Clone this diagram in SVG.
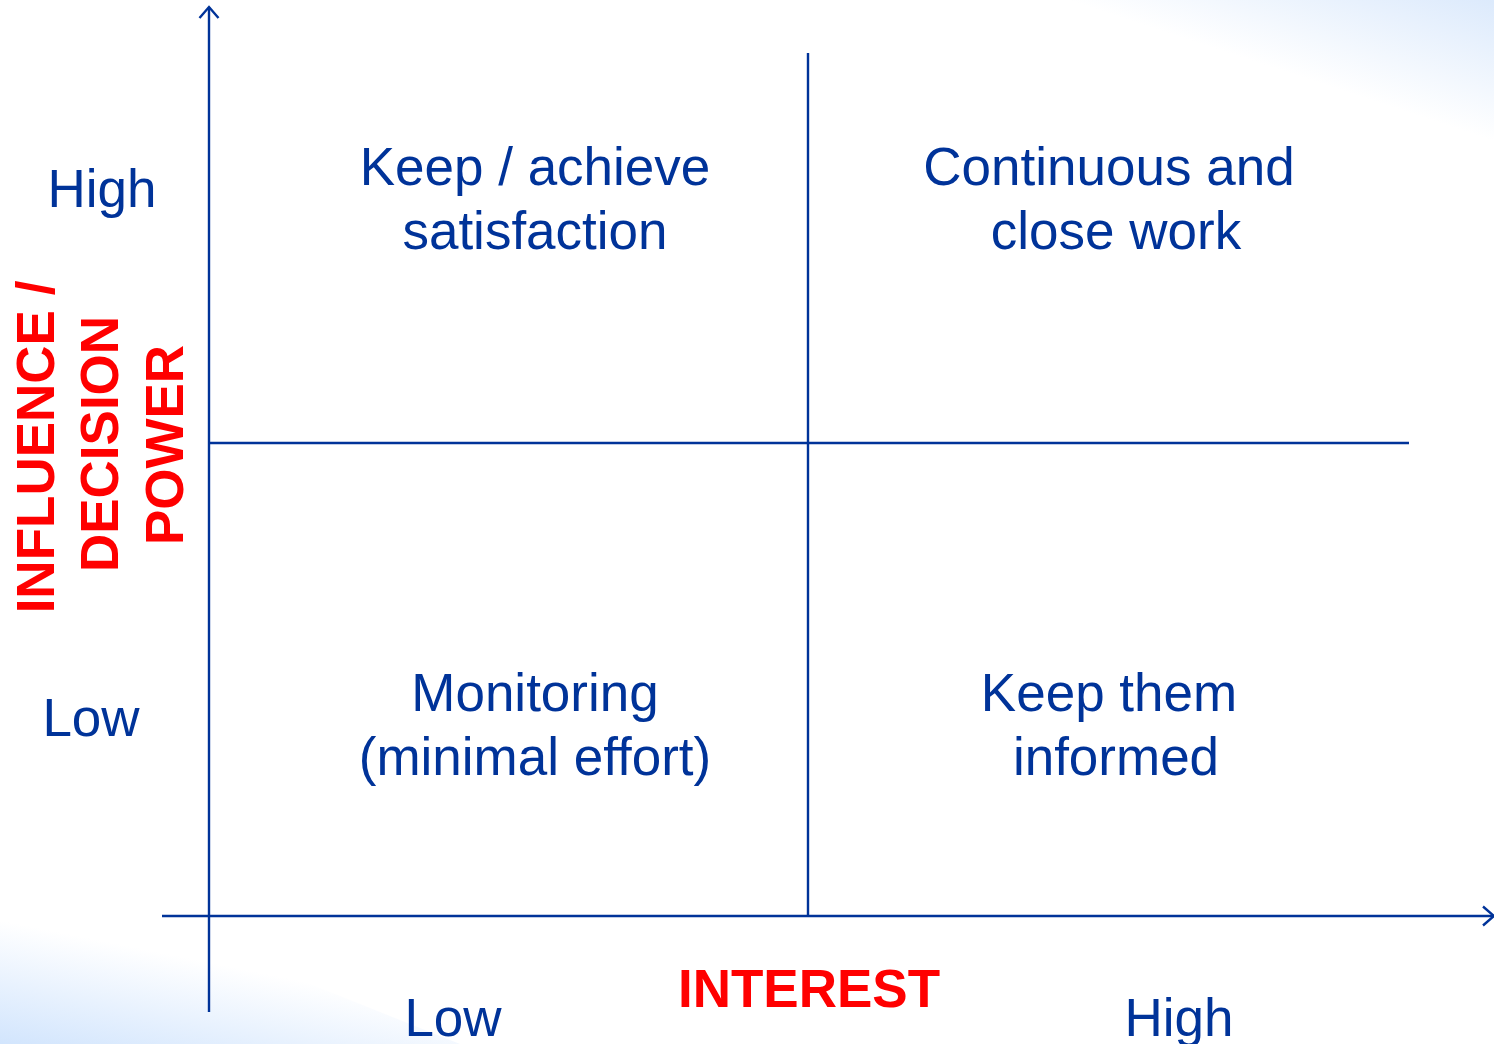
<svg xmlns="http://www.w3.org/2000/svg" width="1494" height="1044" viewBox="0 0 1494 1044">
<defs>
<style>
.b{fill:#003399;font-family:"Liberation Sans",Arial,sans-serif;font-size:53px;text-anchor:middle}
.r{fill:#FF0000;font-family:"Liberation Sans",Arial,sans-serif;font-size:53px;font-weight:bold;text-anchor:middle}
.ln{stroke:#003399;stroke-width:2.4;fill:none}
</style>
<linearGradient id="gtr" gradientUnits="userSpaceOnUse" x1="1452" y1="127" x2="1494" y2="0">
<stop offset="0" stop-color="#FFFFFF"/><stop offset="1" stop-color="#DCEAFC"/>
</linearGradient>
<linearGradient id="gbl" gradientUnits="userSpaceOnUse" x1="24" y1="925" x2="0" y2="1044">
<stop offset="0" stop-color="#FFFFFF"/><stop offset="1" stop-color="#D2E5FD"/>
</linearGradient>
<marker id="arr" viewBox="0 0 24 24" refX="22" refY="12" markerWidth="24" markerHeight="24" markerUnits="userSpaceOnUse" orient="auto">
<path d="M11,2.5 L22,12 L11,21.5" stroke="#003399" stroke-width="2.4" fill="none"/>
</marker>
</defs>
<rect width="1494" height="1044" fill="#FFFFFF"/>
<polygon points="1020,0 1494,0 1494,220" fill="url(#gtr)"/>
<polygon points="0,860 0,1044 460,1044" fill="url(#gbl)"/>
<g id="connectors">
<line class="ln" x1="209" y1="1012" x2="209" y2="7" marker-end="url(#arr)"/>
<line class="ln" x1="162" y1="916" x2="1494" y2="916" marker-end="url(#arr)"/>
<line class="ln" x1="808" y1="53" x2="808" y2="916"/>
<line class="ln" x1="209" y1="443" x2="1409" y2="443"/>
</g>
<g id="y-labels">
<text class="b" x="102" y="207">High</text>
<text class="b" x="91" y="736">Low</text>
</g>
<g id="y-title">
<text class="r" transform="translate(54,447) rotate(-90)">INFLUENCE /</text>
<text class="r" transform="translate(118,444) rotate(-90)">DECISION</text>
<text class="r" transform="translate(183,445) rotate(-90)">POWER</text>
</g>
<g id="q-top-left">
<text class="b" x="535" y="185">Keep / achieve</text>
<text class="b" x="535" y="249">satisfaction</text>
</g>
<g id="q-top-right">
<text class="b" x="1109" y="185">Continuous and</text>
<text class="b" x="1116" y="249">close work</text>
</g>
<g id="q-bottom-left">
<text class="b" x="535" y="711">Monitoring</text>
<text class="b" x="535" y="775">(minimal effort)</text>
</g>
<g id="q-bottom-right">
<text class="b" x="1109" y="711">Keep them</text>
<text class="b" x="1116" y="775">informed</text>
</g>
<g id="x-labels">
<text class="b" x="453" y="1036">Low</text>
<text class="r" x="809" y="1007">INTEREST</text>
<text class="b" x="1179" y="1036">High</text>
</g>
</svg>
